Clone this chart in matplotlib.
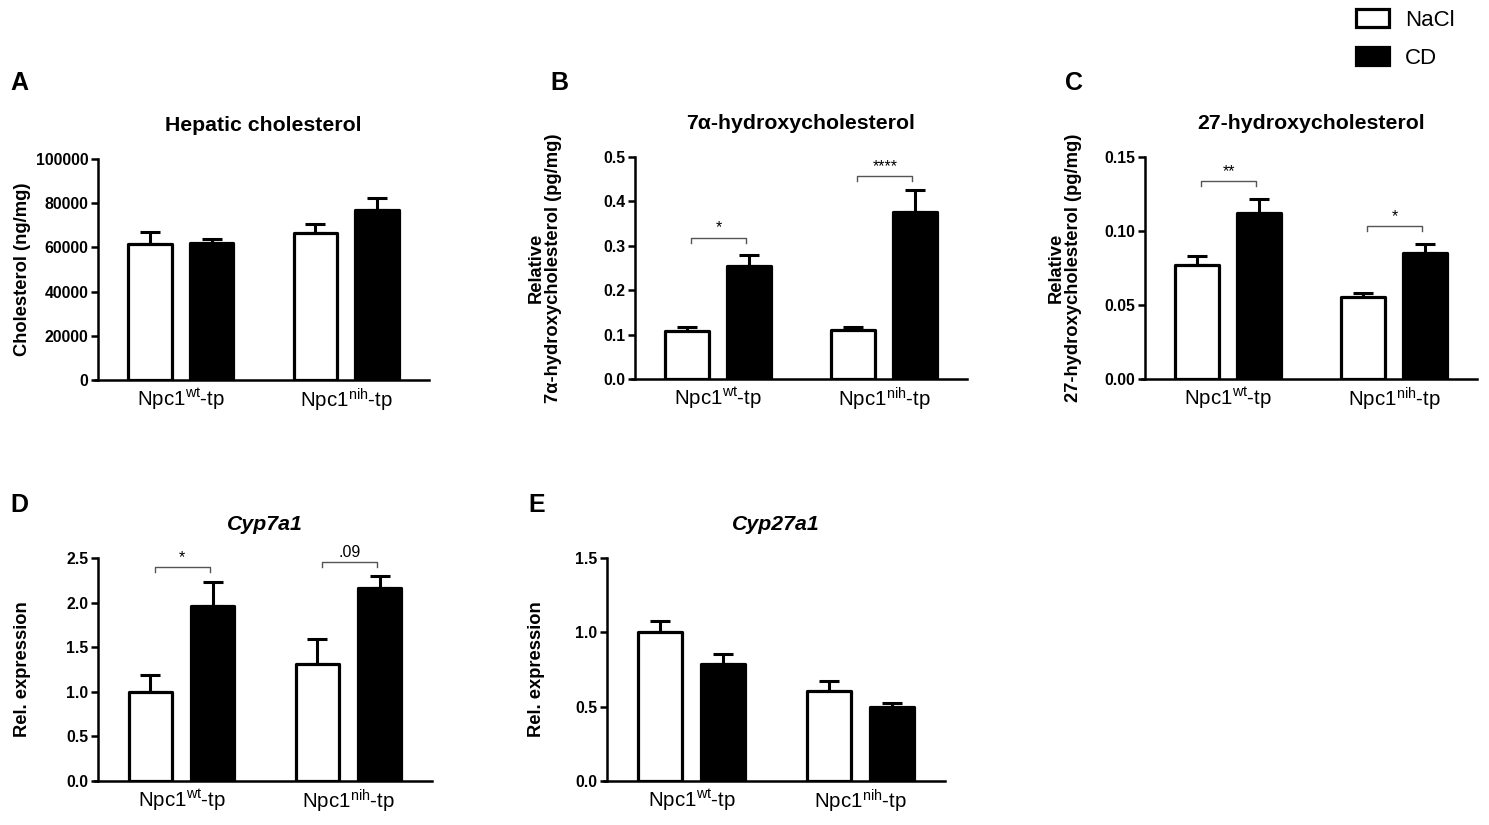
import numpy as np
import matplotlib
matplotlib.use('Agg')
import matplotlib.pyplot as plt
from matplotlib.patches import Patch

plt.rcParams['font.family'] = ['Liberation Sans', 'DejaVu Sans']
plt.rcParams['mathtext.fontset'] = 'custom'
plt.rcParams['mathtext.rm'] = 'Liberation Sans'
plt.rcParams['mathtext.it'] = 'Liberation Sans:italic'

groups = ['Npc1$^{\\mathrm{wt}}$-tp', 'Npc1$^{\\mathrm{nih}}$-tp']
series = ['NaCl', 'CD']

# panel A - hepatic cholesterol (ng/mg)
chol_nacl = [61500, 66300]
chol_nacl_err = [5500, 4300]
chol_cd = [62200, 77000]
chol_cd_err = [1600, 5500]

# panel B - 7a-hydroxycholesterol
oh7_nacl = [0.107, 0.111]
oh7_nacl_err = [0.010, 0.006]
oh7_cd = [0.254, 0.377]
oh7_cd_err = [0.025, 0.049]

# panel C - 27-hydroxycholesterol
oh27_nacl = [0.0768, 0.0555]
oh27_nacl_err = [0.0065, 0.0027]
oh27_cd = [0.1125, 0.0853]
oh27_cd_err = [0.0090, 0.0058]

# panel D - Cyp7a1
cyp7_nacl = [1.00, 1.31]
cyp7_nacl_err = [0.19, 0.28]
cyp7_cd = [1.96, 2.16]
cyp7_cd_err = [0.27, 0.14]

# panel E - Cyp27a1
cyp27_nacl = [1.00, 0.607]
cyp27_nacl_err = [0.073, 0.068]
cyp27_cd = [0.787, 0.499]
cyp27_cd_err = [0.067, 0.023]

# significance: (group index, bracket height, label)
sig_B = [(0, 0.318, '*'), (1, 0.457, '****')]
sig_C = [(0, 0.1336, '**'), (1, 0.1033, '*')]
sig_D = [(0, 2.40, '*'), (1, 2.456, '.09')]

W, H = 1489, 825
fig = plt.figure(figsize=(W / 100, H / 100), dpi=100)


def px_axes(l, r, t, b):
    return fig.add_axes([l / W, 1 - b / H, (r - l) / W, (b - t) / H])


def panel(ax, nacl, nacl_err, cd, cd_err, ylim, yticks, yfmt, title, ylabel,
          title_italic=False, sig=None):
    x = np.arange(len(groups))
    off = 0.186
    bw = 0.262
    ax.bar(x - off, nacl, bw, color='white', edgecolor='black', lw=2.3,
           zorder=3, joinstyle='round')
    ax.bar(x + off, cd, bw, color='black', edgecolor='black', lw=2.3,
           zorder=3, joinstyle='round')
    ax.errorbar(x - off, nacl, yerr=[np.zeros(len(x)), nacl_err], fmt='none',
                ecolor='black', elinewidth=2.2, capsize=7, capthick=2.2, zorder=2)
    ax.errorbar(x + off, cd, yerr=[np.zeros(len(x)), cd_err], fmt='none',
                ecolor='black', elinewidth=2.2, capsize=7, capthick=2.2, zorder=2)
    ax.set_xlim(-0.5, 1.5)
    ax.set_ylim(*ylim)
    ax.set_yticks(yticks)
    ax.set_yticklabels([yfmt % v for v in yticks], fontweight='bold', fontsize=11.4)
    ax.set_xticks(x)
    ax.set_xticklabels(groups, fontsize=14.8)
    ax.tick_params(axis='x', length=0, pad=5)
    ax.tick_params(axis='y', length=5, width=1.8, pad=2)
    for s in ['top', 'right']:
        ax.spines[s].set_visible(False)
    ax.spines['left'].set_linewidth(1.8)
    ax.spines['bottom'].set_linewidth(1.8)
    ax.spines['bottom'].set_bounds(-0.52, 1.5)
    ax.patch.set_alpha(0)
    ax.set_title(title, fontsize=15.3, fontweight='bold',
                 style='italic' if title_italic else 'normal', pad=20)
    ax.set_ylabel(ylabel, fontsize=13.2, fontweight='bold', linespacing=1.05)
    if sig:
        span = ylim[1] - ylim[0]
        for g, yb, lab in sig:
            x0, x1 = g - 0.16, g + 0.17
            d = span * 0.022
            ax.plot([x0, x0, x1, x1], [yb - d, yb, yb, yb - d], color='#555555',
                    lw=1.0, clip_on=False)
            ax.text((x0 + x1) / 2, yb + span * 0.01, lab, ha='center', va='bottom',
                    fontsize=11.5)


axA = px_axes(98, 429, 159, 380)
panel(axA, chol_nacl, chol_nacl_err, chol_cd, chol_cd_err, (0, 100000),
      np.arange(0, 100001, 20000), '%d', 'Hepatic cholesterol', 'Cholesterol (ng/mg)')
axA.yaxis.set_label_coords(-0.203, 0.5)

axB = px_axes(635, 967, 157, 379)
panel(axB, oh7_nacl, oh7_nacl_err, oh7_cd, oh7_cd_err, (0, 0.5),
      np.round(np.arange(0, 0.51, 0.1), 1), '%.1f', '7α-hydroxycholesterol',
      'Relative\n7α-hydroxycholesterol (pg/mg)', sig=sig_B)
axB.yaxis.set_label_coords(-0.22, 0.5)

axC = px_axes(1145, 1477, 157, 379)
panel(axC, oh27_nacl, oh27_nacl_err, oh27_cd, oh27_cd_err, (0, 0.15),
      [0, 0.05, 0.10, 0.15], '%.2f', '27-hydroxycholesterol',
      'Relative\n27-hydroxycholesterol (pg/mg)', sig=sig_C)
axC.yaxis.set_label_coords(-0.19, 0.5)

axD = px_axes(98, 432, 558, 781)
panel(axD, cyp7_nacl, cyp7_nacl_err, cyp7_cd, cyp7_cd_err, (0, 2.5),
      np.arange(0, 2.51, 0.5), '%.1f', 'Cyp7a1', 'Rel. expression',
      title_italic=True, sig=sig_D)
axD.yaxis.set_label_coords(-0.2, 0.5)

axE = px_axes(607, 945, 558, 781)
panel(axE, cyp27_nacl, cyp27_nacl_err, cyp27_cd, cyp27_cd_err, (0, 1.5),
      np.arange(0, 1.51, 0.5), '%.1f', 'Cyp27a1', 'Rel. expression',
      title_italic=True)
axE.yaxis.set_label_coords(-0.184, 0.5)

# panel letters
for lab, xp, yp in [('A', 10, 83), ('B', 550, 83), ('C', 1065, 83),
                    ('D', 10, 505), ('E', 528, 505)]:
    fig.text(xp / W, 1 - yp / H, lab, fontsize=18, fontweight='bold',
             ha='left', va='center')

handles = [Patch(facecolor='white', edgecolor='black', lw=2.3),
           Patch(facecolor='black', edgecolor='black', lw=2.3)]
fig.legend(handles, series, loc='upper left',
           bbox_to_anchor=(1336 / W, 1 + 11 / H),
           frameon=False, fontsize=16, handlelength=1.5, handleheight=0.85,
           labelspacing=0.75, handletextpad=0.7)

fig.savefig('out.png', dpi=100)
